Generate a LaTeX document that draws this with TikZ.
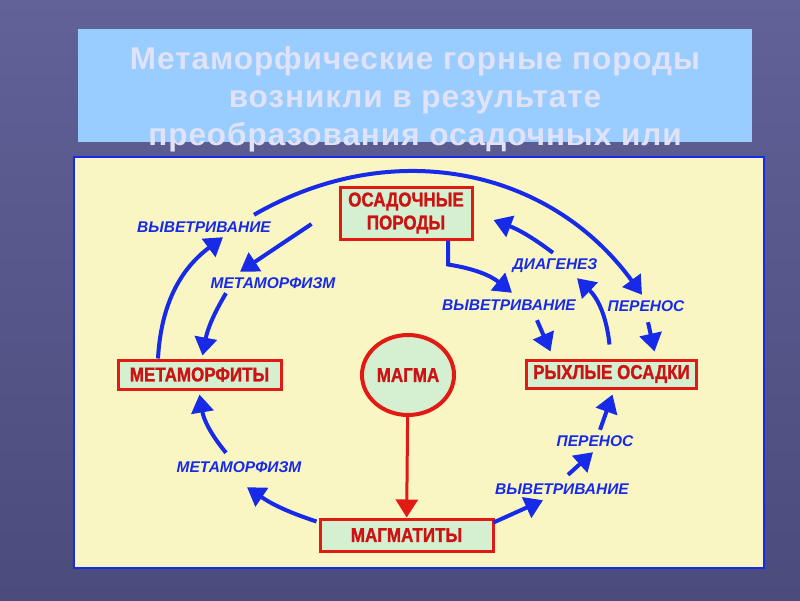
\documentclass[tikz,border=0pt]{standalone}
\usepackage{fontspec}
\setmainfont{Liberation Sans}
\newfontfamily\titlefont[LetterSpace=3]{Liberation Sans}
\newfontfamily\rockfont[FakeStretch=0.85,FakeBold=1.2]{Liberation Sans}
\usetikzlibrary{arrows.meta,shapes.geometric}
\definecolor{slidetop}{RGB}{96,98,152}
\definecolor{slidebot}{RGB}{74,76,124}
\definecolor{skyblue}{RGB}{153,204,255}
\definecolor{titlegray}{RGB}{224,226,248}
\definecolor{sand}{RGB}{249,246,196}
\definecolor{rockred}{RGB}{226,26,20}
\definecolor{rocktext}{RGB}{204,18,18}
\definecolor{rockgreen}{RGB}{212,240,208}
\definecolor{procblue}{RGB}{22,42,232}
\tikzstyle{rock}=[rectangle,draw=rockred,line width=3,fill=rockgreen,text=rocktext,font=\rockfont\bfseries\fontsize{20}{23}\selectfont,align=center,inner sep=0]
\tikzstyle{proc}=[text=procblue,font=\bfseries\itshape\fontsize{15.5}{17}\selectfont,text height=10,text depth=0,inner sep=1]
\tikzstyle{flow}=[draw=procblue,line width=4,-{Triangle[length=18pt,width=22pt]}]
\tikzstyle{lava}=[draw=rockred,line width=3,-{Triangle[length=18pt,width=22pt]}]

\begin{document}
\begin{tikzpicture}[x=1pt,y=-1pt]
\useasboundingbox(0,0)rectangle(800,600);
\shade[top color=slidetop,bottom color=slidebot](0,0)rectangle(800,600);
\node(titlebox)[fill=skyblue,minimum width=674,minimum height=113,inner sep=0] at (415,85.5){};
\node(title)[text=titlegray,font=\titlefont\bfseries\fontsize{31.5}{38}\selectfont,align=center] at (415,99){Метаморфические горные породы\\возникли в результате\\преобразования осадочных или};
\node(panel)[draw=procblue,line width=1.5,fill=sand,minimum width=690,minimum height=411,inner sep=0] at (419,362.5){};
\node(osad)[rock,minimum width=132,minimum height=52] at (406,213){ОСАДОЧНЫЕ\\ПОРОДЫ};
\node(metam)[rock,minimum width=163,minimum height=29] at (199.5,374.5){МЕТАМОРФИТЫ};
\node(rykh)[rock,minimum width=170,minimum height=28] at (611.5,374){РЫХЛЫЕ ОСАДКИ};
\node(magmat)[rock,minimum width=173,minimum height=32] at (406.5,535){МАГМАТИТЫ};
\node(magma)[rock,ellipse,line width=4,minimum width=92,minimum height=80] at (408,375){МАГМА};
\node(lvyv1)[proc] at (204,227){ВЫВЕТРИВАНИЕ};
\node(lmet1)[proc] at (273,283){МЕТАМОРФИЗМ};
\node(lmet2)[proc] at (239,467){МЕТАМОРФИЗМ};
\node(ldia)[proc] at (555,264){ДИАГЕНЕЗ};
\node(lvyv2)[proc] at (509,305){ВЫВЕТРИВАНИЕ};
\node(lper1)[proc] at (646,306){ПЕРЕНОС};
\node(lvyv3)[proc] at (562,489){ВЫВЕТРИВАНИЕ};
\node(lper2)[proc] at (595,441){ПЕРЕНОС};
\draw[flow]([xshift=50,yshift=6]lvyv1.north)to[out=30,in=126,looseness=1.02]([xshift=-4,yshift=5]lper1.north);
\draw[flow]([xshift=-41.5]metam.north)to[bend left=25]([xshift=19,yshift=-4]lvyv1.south);
\draw[flow]([xshift=-27,yshift=-11]osad.west)--([xshift=-33,yshift=5]lmet1.north);
\draw[flow]([xshift=-47,yshift=-4]lmet1.south)to[bend right=10]([xshift=3,yshift=3]metam.north);
\draw[flow]([xshift=-2,yshift=-4]magmat.north west)to[bend left=8]([xshift=8,yshift=-14]lmet2.south);
\draw[flow]([xshift=-13,yshift=8]lmet2.north)to[bend left=15]([yshift=-4]metam.south);
\draw[lava](magma)--(magmat);
\draw[flow]([xshift=-1,yshift=-5]magmat.north east)--([xshift=-19,yshift=-5]lvyv3.south);
\draw[flow]([xshift=6,yshift=8]lvyv3.north)--([xshift=-2,yshift=-5]lper2.south);
\draw[flow]([xshift=5,yshift=5]lper2.north)--([xshift=1,yshift=-5]rykh.south);
\draw[flow]([xshift=42]osad.south)--++(0,24)to[bend left=15]([xshift=3,yshift=6]lvyv2.north);
\draw[flow]([xshift=28,yshift=-9]lvyv2.south)--([xshift=-61,yshift=7]rykh.north);
\draw[flow]([xshift=-2,yshift=14]rykh.north)to[bend right=20]([xshift=22,yshift=-8]ldia.south);
\draw[flow]([xshift=-2,yshift=5]ldia.north)to[bend right=8]([xshift=20,yshift=-7]osad.east);
\draw[flow]([xshift=2,yshift=-10]lper1.south)--([xshift=43,yshift=7]rykh.north);
\end{tikzpicture}
\end{document}
